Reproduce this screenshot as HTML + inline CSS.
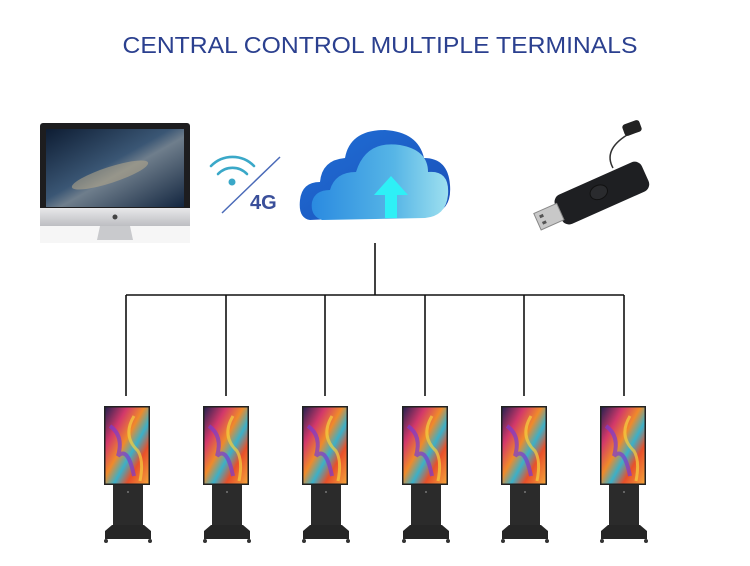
<!DOCTYPE html>
<html><head><meta charset="utf-8"><style>
html,body{margin:0;padding:0;background:#fff;}
svg{display:block}
</style></head><body>
<svg width="750" height="566" viewBox="0 0 750 566" xmlns="http://www.w3.org/2000/svg">
<defs>
<linearGradient id="scr" x1="0" y1="0" x2="1" y2="1">
<stop offset="0" stop-color="#0e1d33"/><stop offset="0.45" stop-color="#3a5674"/><stop offset="0.55" stop-color="#6f7e8c"/><stop offset="1" stop-color="#132640"/>
</linearGradient>
<linearGradient id="alu" x1="0" y1="0" x2="0" y2="1"><stop offset="0" stop-color="#e8e8ea"/><stop offset="1" stop-color="#bdbec2"/></linearGradient>
<linearGradient id="cloudB" x1="0" y1="0" x2="1" y2="1"><stop offset="0" stop-color="#1f6fd6"/><stop offset="1" stop-color="#1b4fb8"/></linearGradient>
<linearGradient id="cloudF" x1="0" y1="0" x2="1" y2="0"><stop offset="0" stop-color="#2a8ae0"/><stop offset="0.6" stop-color="#56b5e6"/><stop offset="1" stop-color="#9ee0ef"/></linearGradient>
<linearGradient id="art" x1="0" y1="0" x2="1" y2="1">
<stop offset="0" stop-color="#2a2250"/><stop offset="0.25" stop-color="#d2386a"/><stop offset="0.45" stop-color="#f08a2a"/><stop offset="0.6" stop-color="#3bb0c8"/><stop offset="0.75" stop-color="#e8502a"/><stop offset="1" stop-color="#f3a33a"/>
</linearGradient>
<g id="kiosk">
<rect x="0" y="0" width="46" height="79" fill="#222"/>
<rect x="1.5" y="1.5" width="43" height="76" fill="url(#art)"/>
<path d="M6 20 Q20 30 14 50 Q24 40 30 70" stroke="#7a3bd0" stroke-width="4" fill="none" opacity="0.7"/>
<path d="M30 10 Q18 30 34 45 Q40 55 36 75" stroke="#f5d040" stroke-width="3" fill="none" opacity="0.7"/>
<rect x="9" y="79" width="30" height="44" fill="#2b2b2b"/>
<circle cx="24" cy="86" r="1" fill="#777"/>
<path d="M1 125 L8 119 L40 119 L47 125 L47 133 L1 133 Z" fill="#262626"/>
<circle cx="2" cy="135" r="2" fill="#333"/><circle cx="46" cy="135" r="2" fill="#333"/>
</g>
</defs>
<text x="380" y="53" text-anchor="middle" font-family="Liberation Sans, sans-serif" font-size="23" fill="#2b408f" textLength="515" lengthAdjust="spacingAndGlyphs">CENTRAL CONTROL MULTIPLE TERMINALS</text>

<!-- iMac -->
<rect x="40" y="123" width="150" height="120" fill="#f6f6f6"/>
<rect x="40" y="123" width="150" height="90" rx="3" fill="#1d1d1f"/>
<rect x="46" y="129" width="138" height="78" fill="url(#scr)"/>
<ellipse cx="110" cy="175" rx="40" ry="8" fill="#b8a98a" opacity="0.55" transform="rotate(-18 110 175)"/>
<rect x="40" y="208" width="150" height="18" fill="url(#alu)"/>
<circle cx="115" cy="217" r="2.5" fill="#444"/>
<path d="M100 226 L130 226 L133 240 L97 240 Z" fill="#c9cacd"/>

<!-- wifi 4G -->
<g fill="none" stroke="#3aa8c8" stroke-width="2.6" stroke-linecap="round">
<path d="M211 166 A30 30 0 0 1 254 166"/>
<path d="M218 174 A20 20 0 0 1 247 174"/>
</g>
<circle cx="232" cy="182" r="3.5" fill="#3aa8c8"/>
<line x1="222" y1="213" x2="280" y2="157" stroke="#4a6ab8" stroke-width="1.5"/>
<text x="250" y="209" font-family="Liberation Sans, sans-serif" font-weight="bold" font-size="20" fill="#3a4f9a">4G</text>

<!-- cloud -->
<path d="M310 220 Q298 218 300 200 Q302 182 320 182 Q322 160 345 158 Q350 130 385 130 Q418 132 424 158 Q448 158 450 185 Q452 210 432 214 Z" fill="url(#cloudB)"/>
<path d="M322 220 Q310 216 312 202 Q315 190 330 190 Q335 172 356 172 Q366 140 400 145 Q428 150 428 172 Q450 170 448 195 Q446 216 425 218 Z" fill="url(#cloudF)"/>
<path d="M391 176 L374 195 L385 195 L385 218 L397 218 L397 195 L408 195 Z" fill="#2ef0f6"/>

<!-- USB -->
<g transform="rotate(-24 600 195)">
<rect x="555" y="178" width="95" height="32" rx="8" fill="#1e1f22"/>
<ellipse cx="600" cy="192" rx="9" ry="7" fill="#2a2b2e" stroke="#111"/>
<rect x="532" y="185" width="25" height="18" fill="#c8c8c8" stroke="#888"/>
<rect x="536" y="189" width="4" height="3" fill="#555"/><rect x="536" y="196" width="4" height="3" fill="#555"/>
</g>
<path d="M613 168 Q603 150 627 135" stroke="#333" stroke-width="1.5" fill="none"/>
<rect x="623" y="122" width="18" height="12" rx="3" fill="#222" transform="rotate(-20 632 128)"/>

<!-- connectors -->
<g stroke="#111" stroke-width="1.6" fill="none">
<line x1="375" y1="243" x2="375" y2="295"/>
<line x1="126" y1="295" x2="624" y2="295"/>
<line x1="126" y1="295" x2="126" y2="396"/>
<line x1="226" y1="295" x2="226" y2="396"/>
<line x1="325" y1="295" x2="325" y2="396"/>
<line x1="425" y1="295" x2="425" y2="396"/>
<line x1="524" y1="295" x2="524" y2="396"/>
<line x1="624" y1="295" x2="624" y2="396"/>
</g>
<use href="#kiosk" x="104" y="406"/>
<use href="#kiosk" x="203" y="406"/>
<use href="#kiosk" x="302" y="406"/>
<use href="#kiosk" x="402" y="406"/>
<use href="#kiosk" x="501" y="406"/>
<use href="#kiosk" x="600" y="406"/>
</svg>
</body></html>
